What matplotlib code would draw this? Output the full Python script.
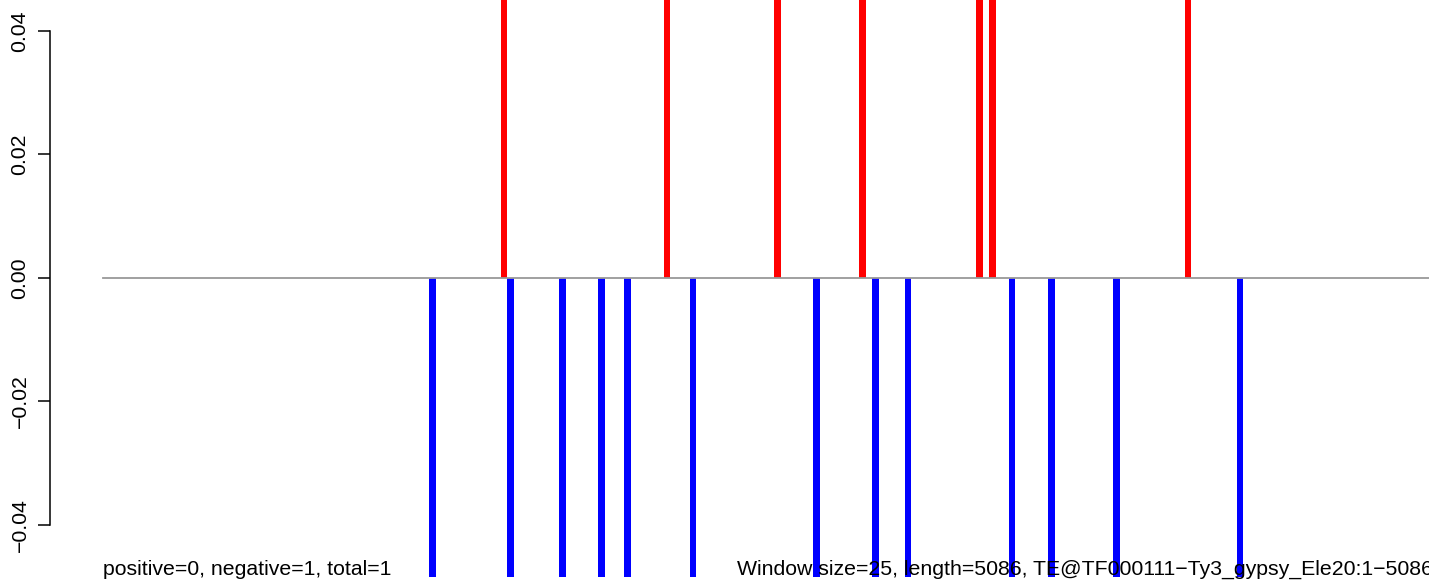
import matplotlib.pyplot as plt

# window indices (window size 25, length 5086) holding a hit
pos_windows = [61, 86, 103, 116, 134, 136, 166]
neg_windows = [50, 62, 70, 76, 80, 90, 109, 118, 123, 139, 145, 155, 174]
pos_value = 0.05
neg_value = -0.0484
n_windows = 5086 / 25
yticks = [-0.04, -0.02, 0.0, 0.02, 0.04]
ytick_labels = ['\u22120.04', '\u22120.02', '0.00', '0.02', '0.04']
left_note = 'positive=0, negative=1, total=1'
right_note = 'Window size=25, length=5086, TE@TF000111\u2212Ty3_gypsy_Ele20:1\u22125086'

plt.rcParams['font.family'] = ['Liberation Sans', 'DejaVu Sans']

fig = plt.figure(figsize=(14.29, 5.81), dpi=100)
ax = fig.add_axes([0, 0, 1, 1])
ax.set_xlim(-15.84, 203.47)
ax.set_ylim(-0.04907, 0.04502)

ax.bar(pos_windows, [pos_value] * len(pos_windows), width=1, align='edge',
       color='#ff0000', linewidth=0)
ax.bar(neg_windows, [neg_value] * len(neg_windows), width=1, align='edge',
       color='#0000ff', linewidth=0)
ax.plot([0, n_windows + 1], [0, 0], color='#999999', linewidth=1.3, zorder=1)

for s in ['top', 'right', 'bottom']:
    ax.spines[s].set_visible(False)
ax.spines['left'].set_position(('data', -8.1))
ax.spines['left'].set_bounds(-0.04, 0.04)
ax.spines['left'].set_linewidth(1.1)
ax.set_xticks([])
ax.set_yticks(yticks)
ax.set_yticklabels(ytick_labels, rotation=90, va='center', fontsize=15.3)
ax.tick_params(axis='y', length=9, width=1.1, pad=6)

ax.text(0, -0.0481, left_note, fontsize=15.3, ha='left', va='baseline')
ax.text(204, -0.0481, right_note, fontsize=15.3, ha='right', va='baseline')

fig.savefig('out.png', dpi=100)
